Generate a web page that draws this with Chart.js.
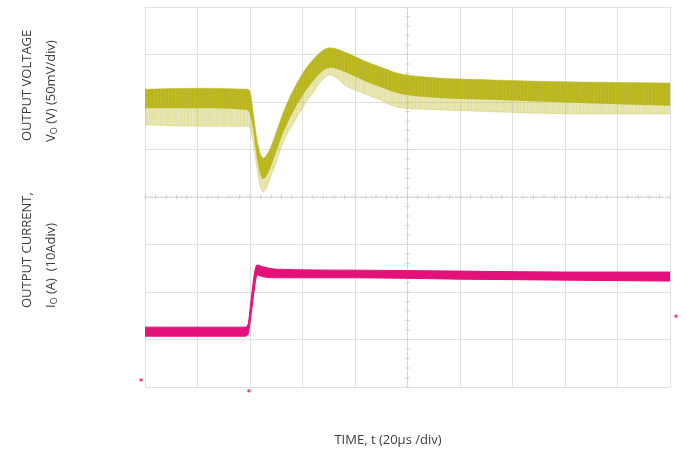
<!DOCTYPE html>
<html>
<head>
<meta charset="utf-8">
<script src="https://cdn.jsdelivr.net/npm/chart.js@4.4.1/dist/chart.umd.min.js"></script>
<style>
  html, body { margin: 0; padding: 0; background: #fff; }
  #wrap { width: 686px; height: 450px; }
</style>
</head>
<body>
<div id="wrap"><canvas id="scope"></canvas></div>
<script>
// Time axis in µs (20µs/div, 10 div), vertical axis in divisions (8 div)
const timeTicks = [0, 20, 40, 60, 80, 100, 120, 140, 160, 180, 200];
const divTicks = [0, 1, 2, 3, 4, 5, 6, 7, 8];

// Output voltage trace (noisy band: top edge, dense core bottom, faint bottom)
const voltTime = [0, 20, 38.9, 40, 41.1, 42.7, 44, 45, 46, 47.6, 50.3, 52.6, 57.9, 62.9, 70.5, 77, 83, 89.5, 96, 105.9, 135, 165.7, 200];
const voltUpper = [6.27, 6.29, 6.27, 6.21, 5.83, 5.20, 4.90, 4.82, 4.86, 5.01, 5.41, 5.77, 6.40, 6.82, 7.14, 7.03, 6.88, 6.74, 6.61, 6.53, 6.46, 6.42, 6.40];
const voltCoreLower = [5.87, 5.87, 5.83, 5.73, 5.45, 4.80, 4.46, 4.38, 4.42, 4.59, 5.00, 5.35, 5.94, 6.36, 6.72, 6.61, 6.46, 6.32, 6.19, 6.11, 6.04, 5.98, 5.92];
const voltOuterLower = [5.52, 5.49, 5.49, 5.45, 5.20, 4.59, 4.20, 4.11, 4.16, 4.38, 4.78, 5.14, 5.68, 6.11, 6.57, 6.32, 6.19, 6.04, 5.89, 5.85, 5.79, 5.75, 5.75];

// Output current trace (band top / bottom)
const ampTime = [0, 38, 39.2, 40.4, 41.9, 42.7, 45, 50, 80, 120, 160, 200];
const ampUpper = [1.26, 1.26, 1.31, 1.83, 2.46, 2.57, 2.53, 2.48, 2.46, 2.44, 2.42, 2.42];
const ampLower = [1.07, 1.07, 1.10, 1.52, 2.15, 2.36, 2.32, 2.30, 2.30, 2.27, 2.25, 2.23];

// Scope channel / trigger markers
const markerTime = [-1.5, 39.6, 202.3];
const markerDiv = [0.15, -0.08, 1.49];

const pts = (xs, ys) => xs.map((x, i) => ({ x: x, y: ys[i] }));

// Light, uneven streaks so the voltage band reads as a noisy scope trace
function streaks(rgb, alphas) {
    const c = document.createElement('canvas');
    c.width = alphas.length; c.height = 8;
    const g = c.getContext('2d');
    alphas.forEach((a, i) => { g.fillStyle = `rgba(${rgb},${a})`; g.fillRect(i, 0, 1, 8); });
    return g.createPattern(c, 'repeat');
}

const ctx = document.getElementById('scope').getContext('2d');

const oliveCore = streaks('178,174,4', [0.95, 0.88, 0.97, 0.84, 0.92, 0.99, 0.86, 0.93, 0.9, 0.97, 0.85]);
const oliveFaint = streaks('192,188,50', [0.42, 0.36, 0.46, 0.33, 0.4, 0.38, 0.45]);
const magenta = 'rgba(226, 18, 122, 1)';

const band = (data, fill, color, border) => ({
    data: data,
    fill: fill,
    backgroundColor: color,
    borderColor: border || 'rgba(0,0,0,0)',
    borderWidth: border ? 1 : 0,
    pointRadius: 0,
    cubicInterpolationMode: 'monotone'
});

// Center crosshair with minor ticks, like a scope graticule
const graticule = {
    id: 'graticule',
    beforeDatasetsDraw(chart) {
        const { ctx, chartArea: a, scales: { x, y } } = chart;
        const cx = x.getPixelForValue(100);
        const cy = y.getPixelForValue(4);
        ctx.save();
        ctx.strokeStyle = '#cfcfcf';
        ctx.lineWidth = 1;
        ctx.setLineDash([3, 2]);
        ctx.beginPath();
        ctx.moveTo(a.left, cy); ctx.lineTo(a.right, cy);
        ctx.moveTo(cx, a.top); ctx.lineTo(cx, a.bottom);
        ctx.stroke();
        ctx.setLineDash([]);
        ctx.beginPath();
        for (let t = 0; t <= 200; t += 4) {
            const px = x.getPixelForValue(t);
            ctx.moveTo(px, cy - 2); ctx.lineTo(px, cy + 2);
        }
        for (let d = 0; d <= 8; d += 0.2) {
            const py = y.getPixelForValue(d);
            ctx.moveTo(cx - 2, py); ctx.lineTo(cx + 2, py);
        }
        ctx.stroke();
        ctx.restore();
    },
    // markers sit outside the graticule, so draw them unclipped
    afterDatasetsDraw(chart) {
        const { ctx, scales: { x, y } } = chart;
        ctx.save();
        ctx.fillStyle = 'rgba(226,18,122,0.8)';
        markerTime.forEach((t, i) => {
            ctx.fillRect(x.getPixelForValue(t) - 1.5, y.getPixelForValue(markerDiv[i]) - 1.5, 3, 3);
        });
        ctx.restore();
    }
};

// Axis captions (rotated, with subscript O)
function drawRuns(ctx, runs, x, y) {
    let off = 0;
    runs.forEach(r => {
        ctx.font = r.font;
        ctx.fillText(r.text, x + off, y + (r.dy || 0));
        off += ctx.measureText(r.text).width;
    });
}

const captions = {
    id: 'captions',
    afterDraw(chart) {
        const ctx = chart.ctx;
        const f = '13px "Open Sans", sans-serif';
        const fs = '9px "Open Sans", sans-serif';
        ctx.save();
        ctx.fillStyle = '#3c3c3c';
        ctx.textBaseline = 'middle';
        ctx.textAlign = 'left';

        const vertical = (x, y, runs) => {
            ctx.save();
            ctx.translate(x, y);
            ctx.rotate(-Math.PI / 2);
            drawRuns(ctx, runs, 0, 0);
            ctx.restore();
        };
        vertical(27, 141, [{ text: 'OUTPUT VOLTAGE', font: f }]);
        vertical(51, 142, [{ text: 'V', font: f }, { text: 'O', font: fs, dy: 3 }, { text: ' (V) (50mV/div)', font: f }]);
        vertical(27, 308, [{ text: 'OUTPUT CURRENT,', font: f }]);
        vertical(51, 308, [{ text: 'I', font: f }, { text: 'O', font: fs, dy: 3 }, { text: ' (A)  (10Adiv)', font: f }]);

        ctx.textAlign = 'center';
        ctx.font = f;
        ctx.fillText('TIME, t (20µs /div)', 388, 440);
        ctx.restore();
    }
};

new Chart(ctx, {
    type: 'line',
    data: {
        datasets: [
            band(pts(voltTime, voltUpper), '+1', oliveFaint, 'rgba(196,192,60,0.5)'),
            band(pts(voltTime, voltOuterLower), false, 'rgba(0,0,0,0)', 'rgba(210,207,120,0.45)'),
            band(pts(voltTime, voltUpper), '+1', oliveCore),
            band(pts(voltTime, voltCoreLower), false, 'rgba(0,0,0,0)'),
            band(pts(ampTime, ampUpper), '+1', magenta, magenta),
            band(pts(ampTime, ampLower), false, 'rgba(0,0,0,0)', magenta)
        ]
    },
    options: {
        responsive: true,
        maintainAspectRatio: false,
        animation: false,
        layout: { padding: { left: 145, right: 16, top: 7, bottom: 63 } },
        plugins: {
            legend: { display: false },
            tooltip: { enabled: false }
        },
        scales: {
            x: {
                type: 'linear',
                min: timeTicks[0],
                max: timeTicks[timeTicks.length - 1],
                afterBuildTicks: s => { s.ticks = timeTicks.map(v => ({ value: v })); },
                ticks: { display: false },
                grid: { color: '#e0e0e0', drawTicks: false },
                border: { display: false }
            },
            y: {
                min: divTicks[0],
                max: divTicks[divTicks.length - 1],
                afterBuildTicks: s => { s.ticks = divTicks.map(v => ({ value: v })); },
                ticks: { display: false },
                grid: { color: '#e0e0e0', drawTicks: false },
                border: { display: false }
            }
        }
    },
    plugins: [graticule, captions]
});
</script>
</body>
</html>
